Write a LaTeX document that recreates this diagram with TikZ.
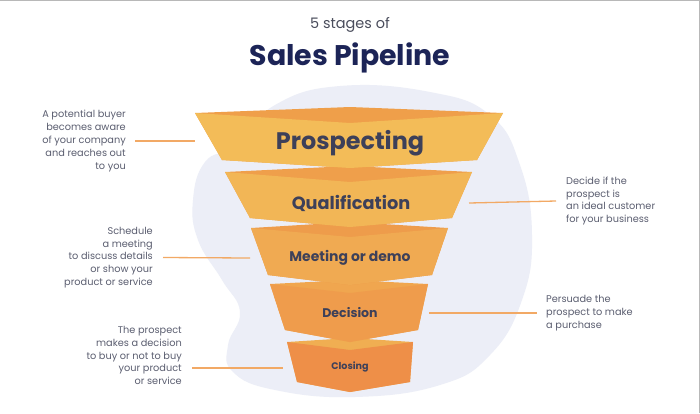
\documentclass[tikz,border=0pt]{standalone}
\usepackage{fontspec}
\setmainfont{Poppins}

\definecolor{blobback}{HTML}{ECEEF7}
\definecolor{framegray}{HTML}{B8B8B8}
\definecolor{titlenavy}{HTML}{1C2457}
\definecolor{subgray}{HTML}{4A4D5C}
\definecolor{descgray}{HTML}{5B5E70}
\definecolor{labelnavy}{HTML}{3D4059}
\definecolor{linkorange}{HTML}{F2A965}
\definecolor{prospFront}{HTML}{F3BC58}
\definecolor{prospBack}{HTML}{EF9F4A}
\definecolor{qualFront}{HTML}{F2B656}
\definecolor{qualBack}{HTML}{EF9F4B}
\definecolor{meetFront}{HTML}{F0AA52}
\definecolor{meetBack}{HTML}{EE9C4B}
\definecolor{decFront}{HTML}{EF9C4C}
\definecolor{decBack}{HTML}{F0A64F}
\definecolor{closeFront}{HTML}{EE8F48}
\definecolor{closeBack}{HTML}{F0AE52}

\begin{document}
\begin{tikzpicture}[x=1bp,y=-1bp,
		desc/.style={font=\fontsize{9.8}{12.9}\selectfont, text=descgray, inner sep=0pt},
		stagetext/.style={text=labelnavy, inner sep=0pt},
		link/.style={draw=linkorange, line width=1.3bp}]
			\useasboundingbox (0,0) rectangle (700,413);
			\fill[white] (0,0) rectangle (700,413);
			\draw[framegray, line width=1.2bp] (0,0.6) -- (699.4,0.6) -- (699.4,413);

			% background blob
			\fill[blobback] plot[smooth cycle, tension=0.75] coordinates {
				(340,86) (430,92) (490,115) (520,165) (532,235) (522,300) (490,355)
				(440,385) (355,397) (275,390) (233,372) (228,345) (240,312) (222,280)
				(198,240) (193,200) (205,162) (235,145) (275,105)};

			% title
			\node[text=subgray, font=\fontsize{14.5}{17}\selectfont] (subtitle) at (350,25) {5 stages of};
			\node[text=titlenavy, font=\bfseries\fontsize{28.5}{34}\selectfont] (title) at (350,58) {Sales Pipeline};

			% funnel, lowest stage first
			\fill[closeBack] (287,342) -- (350,338) -- (413,342) -- (410,382) -- (350,392) -- (297,382) -- cycle;
			\fill[closeFront] (287,342) -- (350,350) -- (413,342) -- (410,382) -- (350,392) -- (297,382) -- cycle;
			\fill[decBack] (270,284) -- (350,280) -- (428,284) -- (418,330) -- (350,342) -- (285,330) -- cycle;
			\fill[decFront] (270,284) -- (350,293) -- (428,284) -- (418,330) -- (350,342) -- (285,330) -- cycle;
			\fill[meetBack] (251,228) -- (350,222) -- (448,228) -- (432,275) -- (350,285) -- (268,275) -- cycle;
			\fill[meetFront] (251,228) -- (350,237) -- (448,228) -- (432,275) -- (350,285) -- (268,275) -- cycle;
			\fill[qualBack] (225,172) -- (350,166) -- (472,172) -- (452,218) -- (350,227) -- (250,218) -- cycle;
			\fill[qualFront] (225,172) -- (350,182) -- (472,172) -- (452,218) -- (350,227) -- (250,218) -- cycle;
			\fill[prospBack] (195,113) -- (350,107) -- (503,113) -- (477,160) -- (350,168) -- (222,160) -- cycle;
			\fill[prospFront] (195,113) -- (350,123) -- (503,113) -- (477,160) -- (350,168) -- (222,160) -- cycle;

			\node[stagetext, font=\bfseries\fontsize{24}{28}\selectfont] (prosp) at (350,143) {Prospecting};
			\node[stagetext, font=\bfseries\fontsize{17.8}{21}\selectfont] (qual) at (351,203) {Qualification};
			\node[stagetext, font=\bfseries\fontsize{14}{17}\selectfont] (meet) at (350,258) {Meeting or demo};
			\node[stagetext, font=\bfseries\fontsize{12.6}{15}\selectfont] (dec) at (350,313) {Decision};
			\node[stagetext, font=\bfseries\fontsize{9.6}{11}\selectfont] (close) at (350,367) {Closing};

			% descriptions
			\node[desc, align=right, anchor=east] (descProsp) at (126,141) {A potential buyer\\becomes aware\\of your company\\and reaches out\\to you};
			\node[desc, align=right, anchor=east] (descMeet) at (153,257.5) {Schedule\\a meeting \\to discuss details\\or show your\\product or service};
			\node[desc, align=right, anchor=east] (descClose) at (182,355.5) {The prospect\\makes a decision\\to buy or not to buy\\your product \\or service};
			\node[desc, align=left, anchor=west] (descQual) at (566,201) {Decide if the\\prospect is\\an ideal customer\\for your business};
			\node[desc, align=left, anchor=west] (descDec) at (546,313) {Persuade the\\prospect to make\\a purchase};

			\coordinate (prospEdge) at (195,141);
			\coordinate (meetEdge) at (250,258);
			\coordinate (closeEdge) at (283,368);
			\coordinate (qualEdge) at (469,203);
			\coordinate (decEdge) at (429,313);

			\draw[link] ([xshift=9bp]descProsp.east) -- (prospEdge);
			\draw[link] ([xshift=10bp]descMeet.east) -- (meetEdge);
			\draw[link, shorten <=10bp] (closeEdge -| descClose.east) -- (closeEdge);
			\draw[link] (qualEdge) -- ([xshift=-10bp]descQual.west);
			\draw[link] (decEdge) -- ([xshift=-9bp]descDec.west);
			\end{tikzpicture}
\end{document}
